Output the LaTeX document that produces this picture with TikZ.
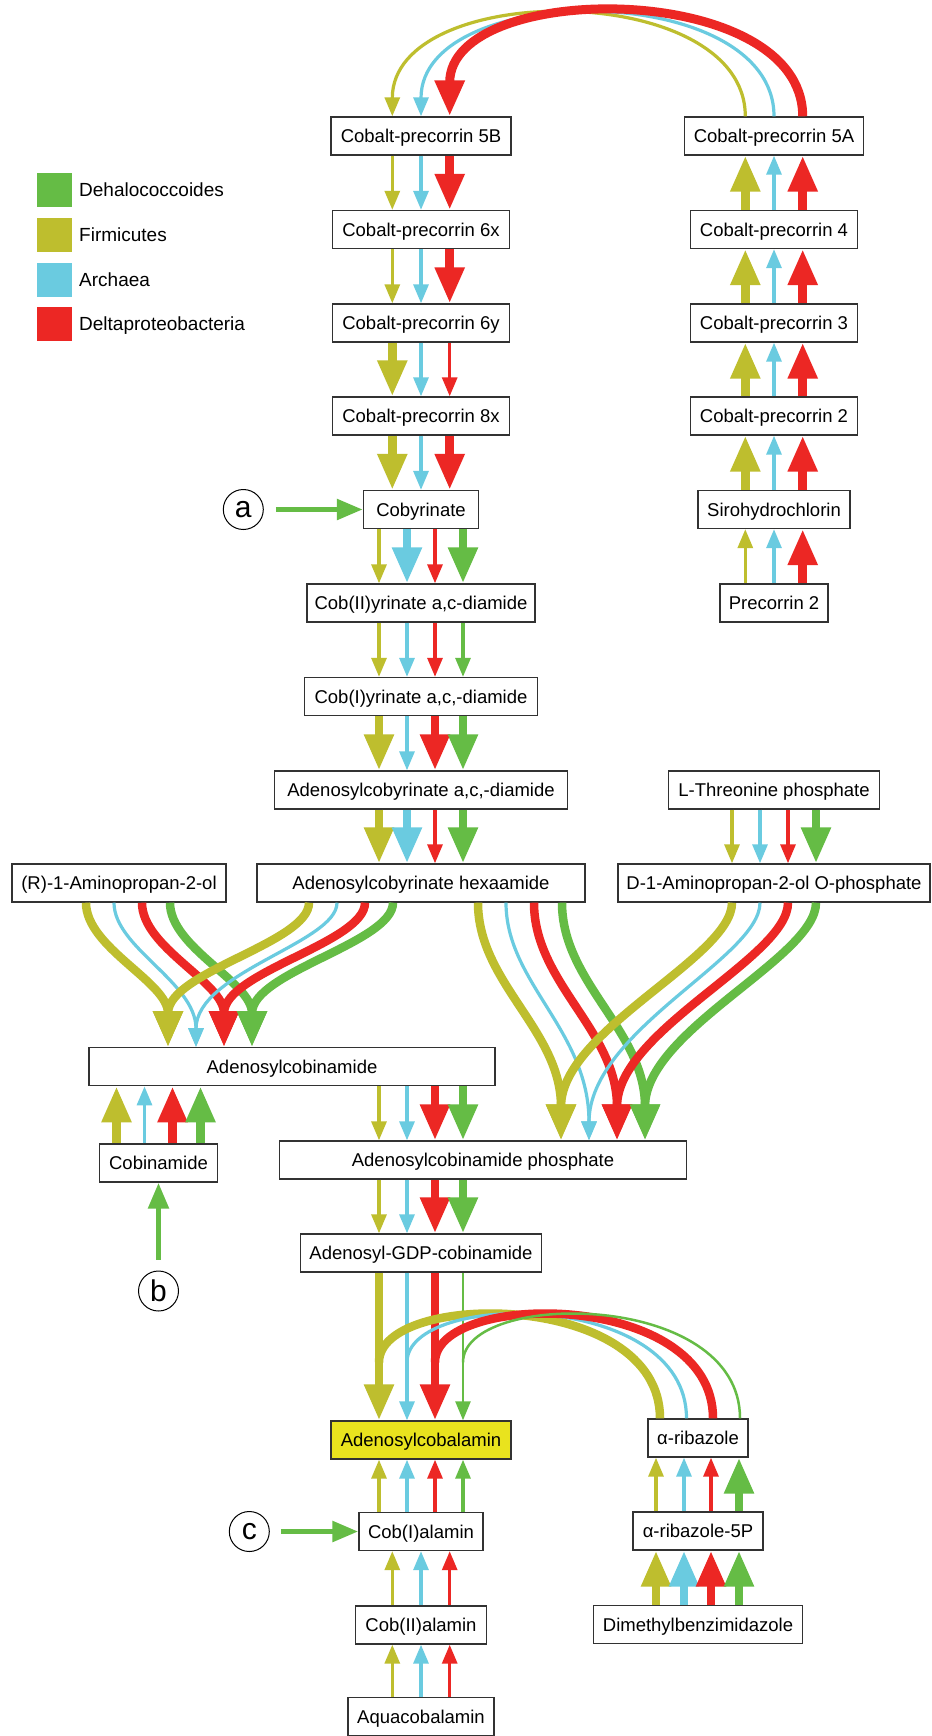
\documentclass[tikz,border=0pt]{standalone}
\usepackage{fontspec}
\setmainfont{Liberation Sans}
\usetikzlibrary{arrows.meta}
\definecolor{cgreen}{RGB}{101,188,69}
\definecolor{cyel}{RGB}{190,190,46}
\definecolor{ccyan}{RGB}{106,203,224}
\definecolor{cred}{RGB}{236,39,36}
\definecolor{boxgray}{RGB}{50,50,50}
\definecolor{adoyel}{RGB}{233,227,30}
\newcommand\myvdn[5]{\draw[#1] ([xshift=#3pt]#2.south) -- ([xshift=#5pt]#4.north);}
\newcommand\myvup[5]{\draw[#1] ([xshift=#3pt]#2.north) -- ([xshift=#5pt]#4.south);}
\begin{document}
\begin{tikzpicture}[x=1pt,y=-1pt,
 box/.style={draw=boxgray,line width=1.4pt,fill=white,minimum height=38pt,inner sep=0pt,text height=13.2pt,text depth=0pt,font=\fontsize{18.5}{22}\selectfont},
 tn/.style={line width=3.2pt,-{Triangle[width=15pt,length=19pt]}},
 tk/.style={line width=8.5pt,-{Triangle[width=28pt,length=36pt]}},
 md/.style={line width=5.5pt,-{Triangle[width=20pt,length=26pt]}},
 tnl/.style={line width=3.2pt},
 tkl/.style={line width=8.5pt},
 circ/.style={circle,draw=black,line width=1pt,minimum size=40pt,inner sep=0pt,font=\fontsize{30}{30}\selectfont},
 leg/.style={minimum width=35pt,minimum height=34pt,inner sep=0pt},
 legtext/.style={anchor=west,inner sep=0pt,text height=13.6pt,text depth=0pt,font=\fontsize{19}{22}\selectfont}]
\useasboundingbox (0,0) rectangle (931,1736);
\fill[white] (0,0) rectangle (931,1736);

% legend
\node[leg,fill=cgreen] (lg1) at (54.5,190) {};
\node[leg,fill=cyel] (lg2) at (54.5,235) {};
\node[leg,fill=ccyan] (lg3) at (54.5,279.5) {};
\node[leg,fill=cred] (lg4) at (54.5,324) {};
\node[legtext] (lt1) at (79,190) {Dehalococcoides};
\node[legtext] (lt2) at (79,235) {Firmicutes};
\node[legtext] (lt3) at (79,279.5) {Archaea};
\node[legtext] (lt4) at (79,324) {Deltaproteobacteria};

% boxes
\node[box,minimum width=180pt] (n5B) at (421,136) {Cobalt-precorrin 5B};
\node[box,minimum width=177pt] (n6x) at (421,229.5) {Cobalt-precorrin 6x};
\node[box,minimum width=177pt] (n6y) at (421,323) {Cobalt-precorrin 6y};
\node[box,minimum width=177pt] (n8x) at (421,416) {Cobalt-precorrin 8x};
\node[box,minimum width=115pt] (ncby) at (421,509.5) {Cobyrinate};
\node[box,minimum width=228pt] (ncb2) at (421,603) {Cob(II)yrinate a,c-diamide};
\node[box,minimum width=233pt] (ncb1) at (421,696.5) {Cob(I)yrinate a,c,-diamide};
\node[box,minimum width=293pt] (nacd) at (421,790) {Adenosylcobyrinate a,c,-diamide};
\node[box,minimum width=328pt] (nhex) at (421,883) {Adenosylcobyrinate hexaamide};
\node[box,minimum width=214pt] (nR) at (119,883) {(R)-1-Aminopropan-2-ol};
\node[box,minimum width=312pt] (nD) at (774,883) {D-1-Aminopropan-2-ol O-phosphate};
\node[box,minimum width=211pt] (nLT) at (774,790) {L-Threonine phosphate};
\node[box,minimum width=179pt] (n5A) at (774,136) {Cobalt-precorrin 5A};
\node[box,minimum width=167pt] (n4) at (774,229.5) {Cobalt-precorrin 4};
\node[box,minimum width=167pt] (n3) at (774,323) {Cobalt-precorrin 3};
\node[box,minimum width=167pt] (n2) at (774,416) {Cobalt-precorrin 2};
\node[box,minimum width=152pt] (nsiro) at (774,509.5) {Sirohydrochlorin};
\node[box,minimum width=108pt] (np2) at (774,603) {Precorrin 2};
\node[box,minimum width=406pt] (nacbi) at (292,1066.7) {Adenosylcobinamide};
\node[box,minimum width=117.5pt] (ncbi) at (158.5,1163) {Cobinamide};
\node[box,minimum width=407pt] (nacbip) at (483,1160) {Adenosylcobinamide phosphate};
\node[box,minimum width=241.5pt] (ngdp) at (421,1253) {Adenosyl-GDP-cobinamide};
\node[box,minimum width=180pt,fill=adoyel] (nadocbl) at (421,1440) {Adenosylcobalamin};
\node[box,minimum width=100pt] (nrib) at (698,1438) {α-ribazole};
\node[box,minimum width=130pt] (nrib5) at (698,1531) {α-ribazole-5P};
\node[box,minimum width=209pt] (ndmb) at (698,1624.5) {Dimethylbenzimidazole};
\node[box,minimum width=124pt] (ncbl1) at (421,1531.5) {Cob(I)alamin};
\node[box,minimum width=130.7pt] (ncbl2) at (421,1625) {Cob(II)alamin};
\node[box,minimum width=146pt] (naqua) at (421,1716.5) {Aquacobalamin};

% circles
\node[circ] (ca) at (243.3,509.5) {a};
\node[circ] (cb) at (158.5,1291) {b};
\node[circ] (cc) at (249.3,1531.5) {c};
\draw[cgreen,md,shorten <=12pt] (ca) -- (ncby.west);
\draw[cgreen,md,shorten <=11pt] (cb) -- (ncbi.south);
\draw[cgreen,md,shorten <=11pt] (cc) -- (ncbl1.west);

% top arc 5A -> 5B
\draw[cyel,tn] ([xshift=-28.7pt]n5A.north) .. controls +(0,-137) and +(0,-137) .. ([xshift=-28.7pt]n5B.north);
\draw[ccyan,tn] (n5A.north) .. controls +(0,-137) and +(0,-137) .. (n5B.north);
\draw[cred,tk,line width=9pt] ([xshift=28.7pt]n5A.north) .. controls +(0,-137) and +(0,-137) .. ([xshift=28.7pt]n5B.north);

% left column
\myvdn{cyel,tn}{n5B}{-28.7}{n6x}{-28.7}
\myvdn{ccyan,tn}{n5B}{0}{n6x}{0}
\myvdn{cred,tk}{n5B}{28.7}{n6x}{28.7}
\myvdn{cyel,tn}{n6x}{-28.7}{n6y}{-28.7}
\myvdn{ccyan,tn}{n6x}{0}{n6y}{0}
\myvdn{cred,tk}{n6x}{28.7}{n6y}{28.7}
\myvdn{cyel,tk}{n6y}{-28.7}{n8x}{-28.7}
\myvdn{ccyan,tn}{n6y}{0}{n8x}{0}
\myvdn{cred,tn}{n6y}{28.7}{n8x}{28.7}
\myvdn{cyel,tk}{n8x}{-28.7}{ncby}{-28.7}
\myvdn{ccyan,tn}{n8x}{0}{ncby}{0}
\myvdn{cred,tk}{n8x}{28.7}{ncby}{28.7}
\myvdn{cyel,tn}{ncby}{-42}{ncb2}{-42}
\myvdn{ccyan,tk}{ncby}{-14}{ncb2}{-14}
\myvdn{cred,tn}{ncby}{14}{ncb2}{14}
\myvdn{cgreen,tk}{ncby}{42}{ncb2}{42}
\myvdn{cyel,tn}{ncb2}{-42}{ncb1}{-42}
\myvdn{ccyan,tn}{ncb2}{-14}{ncb1}{-14}
\myvdn{cred,tn}{ncb2}{14}{ncb1}{14}
\myvdn{cgreen,tn}{ncb2}{42}{ncb1}{42}
\myvdn{cyel,tk}{ncb1}{-42}{nacd}{-42}
\myvdn{ccyan,tn}{ncb1}{-14}{nacd}{-14}
\myvdn{cred,tk}{ncb1}{14}{nacd}{14}
\myvdn{cgreen,tk}{ncb1}{42}{nacd}{42}
\myvdn{cyel,tk}{nacd}{-42}{nhex}{-42}
\myvdn{ccyan,tk}{nacd}{-14}{nhex}{-14}
\myvdn{cred,tn}{nacd}{14}{nhex}{14}
\myvdn{cgreen,tk}{nacd}{42}{nhex}{42}

% right column
\myvup{cyel,tn}{np2}{-28.7}{nsiro}{-28.7}
\myvup{ccyan,tn}{np2}{0}{nsiro}{0}
\myvup{cred,tk}{np2}{28.7}{nsiro}{28.7}
\foreach \lo/\hi in {nsiro/n2,n2/n3,n3/n4,n4/n5A}{
 \myvup{cyel,tk}{\lo}{-28.7}{\hi}{-28.7}
 \myvup{ccyan,tn}{\lo}{0}{\hi}{0}
 \myvup{cred,tk}{\lo}{28.7}{\hi}{28.7}
}
\myvdn{cyel,tn}{nLT}{-42}{nD}{-42}
\myvdn{ccyan,tn}{nLT}{-14}{nD}{-14}
\myvdn{cred,tn}{nLT}{14}{nD}{14}
\myvdn{cgreen,tk}{nLT}{42}{nD}{42}

% S-curves to Adenosylcobinamide
\draw[cyel,tk] ([xshift=-33pt]nR.south) .. controls +(0,45) and +(0,-65) .. ([xshift=-124pt]nacbi.north);
\draw[ccyan,tn] ([xshift=-5pt]nR.south) .. controls +(0,45) and +(0,-65) .. ([xshift=-96pt]nacbi.north);
\draw[cred,tk] ([xshift=23pt]nR.south) .. controls +(0,45) and +(0,-65) .. ([xshift=-68pt]nacbi.north);
\draw[cgreen,tk] ([xshift=51pt]nR.south) .. controls +(0,45) and +(0,-65) .. ([xshift=-40pt]nacbi.north);
\draw[cyel,tk] ([xshift=-112pt]nhex.south) .. controls +(0,40) and +(0,-75) .. ([xshift=-124pt]nacbi.north);
\draw[ccyan,tn] ([xshift=-84pt]nhex.south) .. controls +(0,40) and +(0,-75) .. ([xshift=-96pt]nacbi.north);
\draw[cred,tk] ([xshift=-56pt]nhex.south) .. controls +(0,40) and +(0,-75) .. ([xshift=-68pt]nacbi.north);
\draw[cgreen,tk] ([xshift=-28pt]nhex.south) .. controls +(0,40) and +(0,-75) .. ([xshift=-40pt]nacbi.north);

% S-curves to Adenosylcobinamide phosphate
\draw[cyel,tk] ([xshift=57pt]nhex.south) .. controls +(0,80) and +(0,-110) .. ([xshift=78pt]nacbip.north);
\draw[ccyan,tn] ([xshift=85pt]nhex.south) .. controls +(0,80) and +(0,-110) .. ([xshift=106pt]nacbip.north);
\draw[cred,tk] ([xshift=113pt]nhex.south) .. controls +(0,80) and +(0,-110) .. ([xshift=134pt]nacbip.north);
\draw[cgreen,tk] ([xshift=141pt]nhex.south) .. controls +(0,80) and +(0,-110) .. ([xshift=162pt]nacbip.north);
\draw[cyel,tk] ([xshift=-42pt]nD.south) .. controls +(0,55) and +(0,-110) .. ([xshift=78pt]nacbip.north);
\draw[ccyan,tn] ([xshift=-14pt]nD.south) .. controls +(0,55) and +(0,-110) .. ([xshift=106pt]nacbip.north);
\draw[cred,tk] ([xshift=14pt]nD.south) .. controls +(0,55) and +(0,-110) .. ([xshift=134pt]nacbip.north);
\draw[cgreen,tk] ([xshift=42pt]nD.south) .. controls +(0,55) and +(0,-110) .. ([xshift=162pt]nacbip.north);

% Cobinamide -> Adenosylcobinamide
\myvup{cyel,tk}{ncbi}{-42}{nacbi}{-175.5}
\myvup{ccyan,tn}{ncbi}{-14}{nacbi}{-147.5}
\myvup{cred,tk}{ncbi}{14}{nacbi}{-119.5}
\myvup{cgreen,tk}{ncbi}{42}{nacbi}{-91.5}
% Adenosylcobinamide -> phosphate
\myvdn{cyel,tn}{nacbi}{87}{nacbip}{-104}
\myvdn{ccyan,tn}{nacbi}{115}{nacbip}{-76}
\myvdn{cred,tk}{nacbi}{143}{nacbip}{-48}
\myvdn{cgreen,tk}{nacbi}{171}{nacbip}{-20}
% phosphate -> GDP
\myvdn{cyel,tn}{nacbip}{-104}{ngdp}{-42}
\myvdn{ccyan,tn}{nacbip}{-76}{ngdp}{-14}
\myvdn{cred,tk}{nacbip}{-48}{ngdp}{14}
\myvdn{cgreen,tk}{nacbip}{-20}{ngdp}{42}
% GDP -> Adenosylcobalamin
\myvdn{cyel,tk}{ngdp}{-42}{nadocbl}{-42}
\myvdn{ccyan,tn}{ngdp}{-14}{nadocbl}{-14}
\myvdn{cred,tk}{ngdp}{14}{nadocbl}{14}
\myvdn{cgreen,tn,line width=2.5pt}{ngdp}{42}{nadocbl}{42}

% alpha-ribazole arcs
\draw[cyel,tkl] ([xshift=-38pt]nrib.north) .. controls +(0,-129) and +(0,-72) .. ([xshift=-42pt,yshift=58pt]nadocbl.north);
\draw[ccyan,tnl] ([xshift=-11.5pt]nrib.north) .. controls +(0,-129) and +(0,-72) .. ([xshift=-14pt,yshift=58pt]nadocbl.north);
\draw[cred,tkl] ([xshift=15pt]nrib.north) .. controls +(0,-129) and +(0,-72) .. ([xshift=14pt,yshift=58pt]nadocbl.north);
\draw[cgreen,line width=2.5pt] ([xshift=42pt]nrib.north) .. controls +(0,-129) and +(0,-72) .. ([xshift=42pt,yshift=58pt]nadocbl.north);

% bottom
\myvup{cyel,tn}{ncbl1}{-42}{nadocbl}{-42}
\myvup{ccyan,tn}{ncbl1}{-14}{nadocbl}{-14}
\myvup{cred,tn}{ncbl1}{14}{nadocbl}{14}
\myvup{cgreen,tn}{ncbl1}{42}{nadocbl}{42}
\myvup{cyel,tn}{ncbl2}{-28.7}{ncbl1}{-28.7}
\myvup{ccyan,tn}{ncbl2}{0}{ncbl1}{0}
\myvup{cred,tn}{ncbl2}{28.7}{ncbl1}{28.7}
\myvup{cyel,tn}{naqua}{-28.7}{ncbl2}{-28.7}
\myvup{ccyan,tn}{naqua}{0}{ncbl2}{0}
\myvup{cred,tn}{naqua}{28.7}{ncbl2}{28.7}
\myvup{cyel,tn}{nrib5}{-42}{nrib}{-42}
\myvup{ccyan,tn}{nrib5}{-14}{nrib}{-14}
\myvup{cred,tn}{nrib5}{13}{nrib}{13}
\myvup{cgreen,tk}{nrib5}{41}{nrib}{41}
\myvup{cyel,tk}{ndmb}{-42}{nrib5}{-42}
\myvup{ccyan,tk}{ndmb}{-14}{nrib5}{-14}
\myvup{cred,tk}{ndmb}{13}{nrib5}{13}
\myvup{cgreen,tk}{ndmb}{41}{nrib5}{41}
\end{tikzpicture}
\end{document}
